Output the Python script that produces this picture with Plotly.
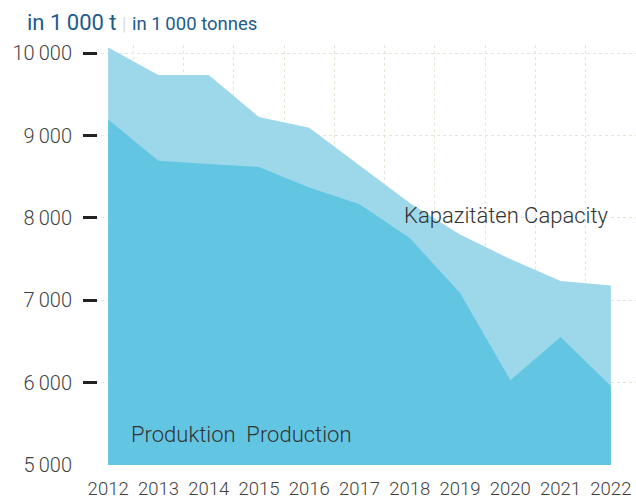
import plotly.graph_objects as go

years = [2012, 2013, 2014, 2015, 2016, 2017, 2018, 2019, 2020, 2021, 2022]
capacity = [10070, 9735, 9735, 9225, 9095, 8640, 8180, 7800, 7500, 7235, 7180]
production = [9195, 8695, 8655, 8620, 8370, 8165, 7755, 7090, 6030, 6555, 5960]

y_tickvals = [5000, 6000, 7000, 8000, 9000, 10000]
y_ticktext = ["5\u2009000", "6\u2009000", "7\u2009000", "8\u2009000", "9\u2009000", "10\u2009000"]
x_ticktext = [str(y) for y in years]

FONT = "Roboto"

fig = go.Figure()
fig.add_trace(go.Scatter(
    x=years, y=capacity, mode="lines", fill="tozeroy",
    line=dict(width=0, color="#9dd8ea"), fillcolor="#9dd8ea",
    hoverinfo="skip", showlegend=False))
fig.add_trace(go.Scatter(
    x=years, y=production, mode="lines", fill="tozeroy",
    line=dict(width=0, color="#62c6e3"), fillcolor="#62c6e3",
    hoverinfo="skip", showlegend=False))

fig.update_layout(
    width=636, height=499,
    margin=dict(l=83, r=0, t=45, b=34, autoexpand=False),
    paper_bgcolor="white", plot_bgcolor="white",
    font=dict(family=FONT, color="#444"),
    xaxis=dict(
        range=[2011.5, 2022.5], tickvals=years, ticktext=x_ticktext,
        showgrid=False, zeroline=False, showline=False, ticks="",
        tickfont=dict(size=18.5, color="#3f3f3f", family=FONT, weight=300),
        ticklabelstandoff=10,
        minor=dict(tick0=2011.5, dtick=1, showgrid=True, gridcolor="#e6e6d6",
                   griddash="dot", gridwidth=1, ticks=""),
        layer="above traces", fixedrange=True, automargin=False,
    ),
    yaxis=dict(
        range=[5000, 10100], tickvals=y_tickvals, ticktext=y_ticktext,
        showgrid=True, gridcolor="#e6e6d6", griddash="dot", gridwidth=1,
        zeroline=False, showline=False,
        ticks="inside", ticklen=14, tickwidth=3, tickcolor="#222",
        tickfont=dict(size=20, color="#3f3f3f", family=FONT, weight=300),
        ticklabelstandoff=10,
        layer="above traces", fixedrange=True, automargin=False,
    ),
    annotations=[
        dict(xref="paper", yref="paper", x=-0.105, y=1.0, yshift=8,
             xanchor="left", yanchor="bottom", showarrow=False,
             text="in 1\u2009000 t <span style='color:#dddddd;font-size:18px'>|</span> "
                  "<span style='font-size:18.5px'>in 1\u2009000 tonnes</span>",
             font=dict(size=22, color="#1d5b8c", family=FONT)),
        dict(xref="x", yref="y", x=2022, y=8030, xanchor="right", yanchor="middle",
             showarrow=False, text="Kapazitäten Capacity",
             font=dict(size=22, color="#333", family=FONT, weight=300)),
        dict(xref="x", yref="y", x=2012.42, y=5370, xanchor="left", yanchor="middle",
             showarrow=False, text="Produktion  Production",
             font=dict(size=22, color="#333", family=FONT, weight=300)),
    ],
)

fig.write_html("out.html", config={"displayModeBar": False},
               post_script="document.body.style.margin='0';")
